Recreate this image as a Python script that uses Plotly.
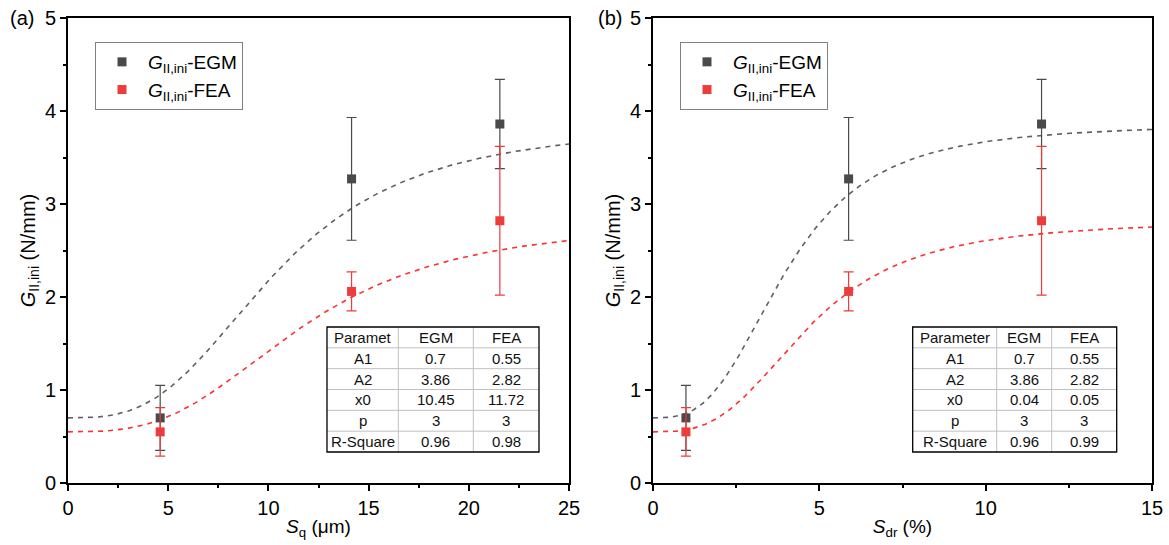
import numpy as np
import plotly.graph_objects as go

W, H = 1169, 545

# ---------------- data ----------------
# panel (a): Sq (um)
sq_x = [4.6, 14.15, 21.55]
# panel (b): Sdr (%)
sdr_x = [0.99, 5.88, 11.68]

egm_y = [0.70, 3.27, 3.86]
egm_err = [0.35, 0.66, 0.48]
fea_y = [0.55, 2.06, 2.82]
fea_err = [0.26, 0.21, 0.80]

# fit parameters (dose-response: A2 + (A1-A2)/(1+(x/x0)^p))
fit_a1 = [0.70, 0.55]          # EGM, FEA
fit_a2 = [3.86, 2.82]
fit_p = [3, 3]
fit_x0_a = [10.45, 11.72]      # Sq, um
fit_x0_b = [4.0, 4.7]          # Sdr, %

# table contents
tab_a_head = ["Paramet", "EGM", "FEA"]
tab_b_head = ["Parameter", "EGM", "FEA"]
tab_rows = ["A1", "A2", "x0", "p", "R-Square"]
tab_a_egm = ["0.7", "3.86", "10.45", "3", "0.96"]
tab_a_fea = ["0.55", "2.82", "11.72", "3", "0.98"]
tab_b_egm = ["0.7", "3.86", "0.04", "3", "0.96"]
tab_b_fea = ["0.55", "2.82", "0.05", "3", "0.99"]

EGM_C = "#4a4a4a"
FEA_C = "#ee3b3b"
EGM_LINE = "#606060"
FEA_LINE = "#ff3030"
FONT = "Liberation Sans, Arial, sans-serif"


def fit(x, a1, a2, x0, p):
    return a2 + (a1 - a2) / (1 + (x / x0) ** p)


fig = go.Figure()

xa = np.linspace(0, 25, 300)
xb = np.linspace(0, 15, 300)

panels = [
    ("x", "y", "legend", sq_x, xa, fit_x0_a),
    ("x2", "y2", "legend2", sdr_x, xb, fit_x0_b),
]
for xr, yr, lg, px, xs, x0s in panels:
    for i, col in enumerate([EGM_LINE, FEA_LINE]):
        fig.add_trace(go.Scatter(
            x=xs, y=fit(xs, fit_a1[i], fit_a2[i], x0s[i], fit_p[i]),
            mode="lines", line=dict(color=col, width=1.6, dash="5px,5px"),
            showlegend=False, hoverinfo="skip", xaxis=xr, yaxis=yr))
    fig.add_trace(go.Scatter(
        x=px, y=egm_y, mode="markers",
        marker=dict(symbol="square", size=9, color=EGM_C),
        error_y=dict(type="data", array=egm_err, color=EGM_C, thickness=1.2, width=5),
        name="<i>G</i><sub>II,ini</sub>-EGM", legend=lg, xaxis=xr, yaxis=yr))
    fig.add_trace(go.Scatter(
        x=px, y=fea_y, mode="markers",
        marker=dict(symbol="square", size=9, color=FEA_C),
        error_y=dict(type="data", array=fea_err, color=FEA_C, thickness=1.2, width=5),
        name="<i>G</i><sub>II,ini</sub>-FEA", legend=lg, xaxis=xr, yaxis=yr))

# ---------------- tables (drawn as shapes + text) ----------------
shapes = []
annotations = []
ytop, ybot = 327, 452
nrow = 1 + len(tab_rows)
row_h = (ybot - ytop) / nrow
tables = [
    (tab_a_head, tab_a_egm, tab_a_fea, [327, 398.3, 473.3, 539]),
    (tab_b_head, tab_b_egm, tab_b_fea, [912.7, 996.7, 1051.7, 1116.7]),
]


def px2x(p):
    return p / W


def px2y(p):
    return (H - p) / H


for head, ce, cf, cols in tables:
    shapes.append(dict(type="rect", xref="paper", yref="paper",
                       x0=px2x(cols[0]), x1=px2x(cols[-1]), y0=px2y(ybot), y1=px2y(ytop),
                       line=dict(width=0), fillcolor="white", layer="above"))
    for k in range(1, nrow):
        yy = ytop + k * row_h
        shapes.append(dict(type="line", xref="paper", yref="paper",
                           x0=px2x(cols[0]), x1=px2x(cols[-1]), y0=px2y(yy), y1=px2y(yy),
                           line=dict(color="#c0c0c0", width=1), layer="above"))
    for c in cols[1:-1]:
        shapes.append(dict(type="line", xref="paper", yref="paper",
                           x0=px2x(c), x1=px2x(c), y0=px2y(ytop), y1=px2y(ybot),
                           line=dict(color="#c0c0c0", width=1), layer="above"))
    shapes.append(dict(type="rect", xref="paper", yref="paper",
                       x0=px2x(cols[0]), x1=px2x(cols[-1]), y0=px2y(ybot), y1=px2y(ytop),
                       line=dict(color="black", width=1.3), fillcolor="rgba(0,0,0,0)",
                       layer="above"))
    columns = [[head[0]] + tab_rows, [head[1]] + ce, [head[2]] + cf]
    for j, colvals in enumerate(columns):
        cx = (cols[j] + cols[j + 1]) / 2
        for r, txt in enumerate(colvals):
            cy = ytop + (r + 0.5) * row_h
            annotations.append(dict(text=txt, x=px2x(cx), y=px2y(cy), xref="paper",
                                    yref="paper", xanchor="center", yanchor="middle",
                                    showarrow=False,
                                    font=dict(family=FONT, size=15, color="#111")))

annotations += [
    dict(text="(a)", x=8 / W, y=(H - 18) / H, xref="paper", yref="paper",
         xanchor="left", yanchor="middle", showarrow=False,
         font=dict(family=FONT, size=20, color="black")),
    dict(text="(b)", x=596 / W, y=(H - 18) / H, xref="paper", yref="paper",
         xanchor="left", yanchor="middle", showarrow=False,
         font=dict(family=FONT, size=20, color="black")),
]

axis_common = dict(showline=True, linewidth=2, linecolor="black", mirror=True,
                   ticks="outside", ticklen=6, tickwidth=1.5, tickcolor="black",
                   showgrid=False, zeroline=False, automargin=False,
                   tickfont=dict(family=FONT, size=20, color="black"))
ytitle = "<i>G</i><sub>II,ini</sub> (N/mm)"
ydom = [62 / H, 527 / H]
minor_x = dict(dtick=2.5, ticks="outside", ticklen=3, tickwidth=1.5)
minor_y = dict(dtick=0.5, ticks="outside", ticklen=3, tickwidth=1.5)
xtitle_font = dict(family=FONT, size=19, color="black")
ytitle_font = dict(family=FONT, size=20, color="black")
legend_common = dict(bgcolor="white", bordercolor="#808080", borderwidth=1,
                     xanchor="left", yanchor="top", itemwidth=42,
                     tracegroupgap=0,
                     font=dict(family=FONT, size=19, color="black"))

fig.update_layout(
    width=W, height=H, margin=dict(l=0, r=0, t=0, b=0, autoexpand=False),
    paper_bgcolor="white", plot_bgcolor="white",
    font=dict(family=FONT, size=18, color="black"),
    xaxis=dict(domain=[68 / W, 569 / W], range=[0, 25], dtick=5, minor=minor_x,
               title=dict(text="<i>S</i><sub>q</sub> (μm)", standoff=2, font=xtitle_font),
               anchor="y", **axis_common),
    yaxis=dict(domain=ydom, range=[0, 5], dtick=1, minor=minor_y,
               title=dict(text=ytitle, standoff=4, font=ytitle_font),
               anchor="x", **axis_common),
    xaxis2=dict(domain=[653 / W, 1152 / W], range=[0, 15], dtick=5, minor=minor_x,
                title=dict(text="<i>S</i><sub>dr</sub> (%)", standoff=2, font=xtitle_font),
                anchor="y2", **axis_common),
    yaxis2=dict(domain=ydom, range=[0, 5], dtick=1, minor=minor_y,
                title=dict(text=ytitle, standoff=4, font=ytitle_font),
                anchor="x2", **axis_common),
    legend=dict(x=95 / W, y=(H - 42) / H, **legend_common),
    legend2=dict(x=680 / W, y=(H - 42) / H, **legend_common),
    shapes=shapes,
    annotations=annotations,
)

fig.write_html("out.html")
